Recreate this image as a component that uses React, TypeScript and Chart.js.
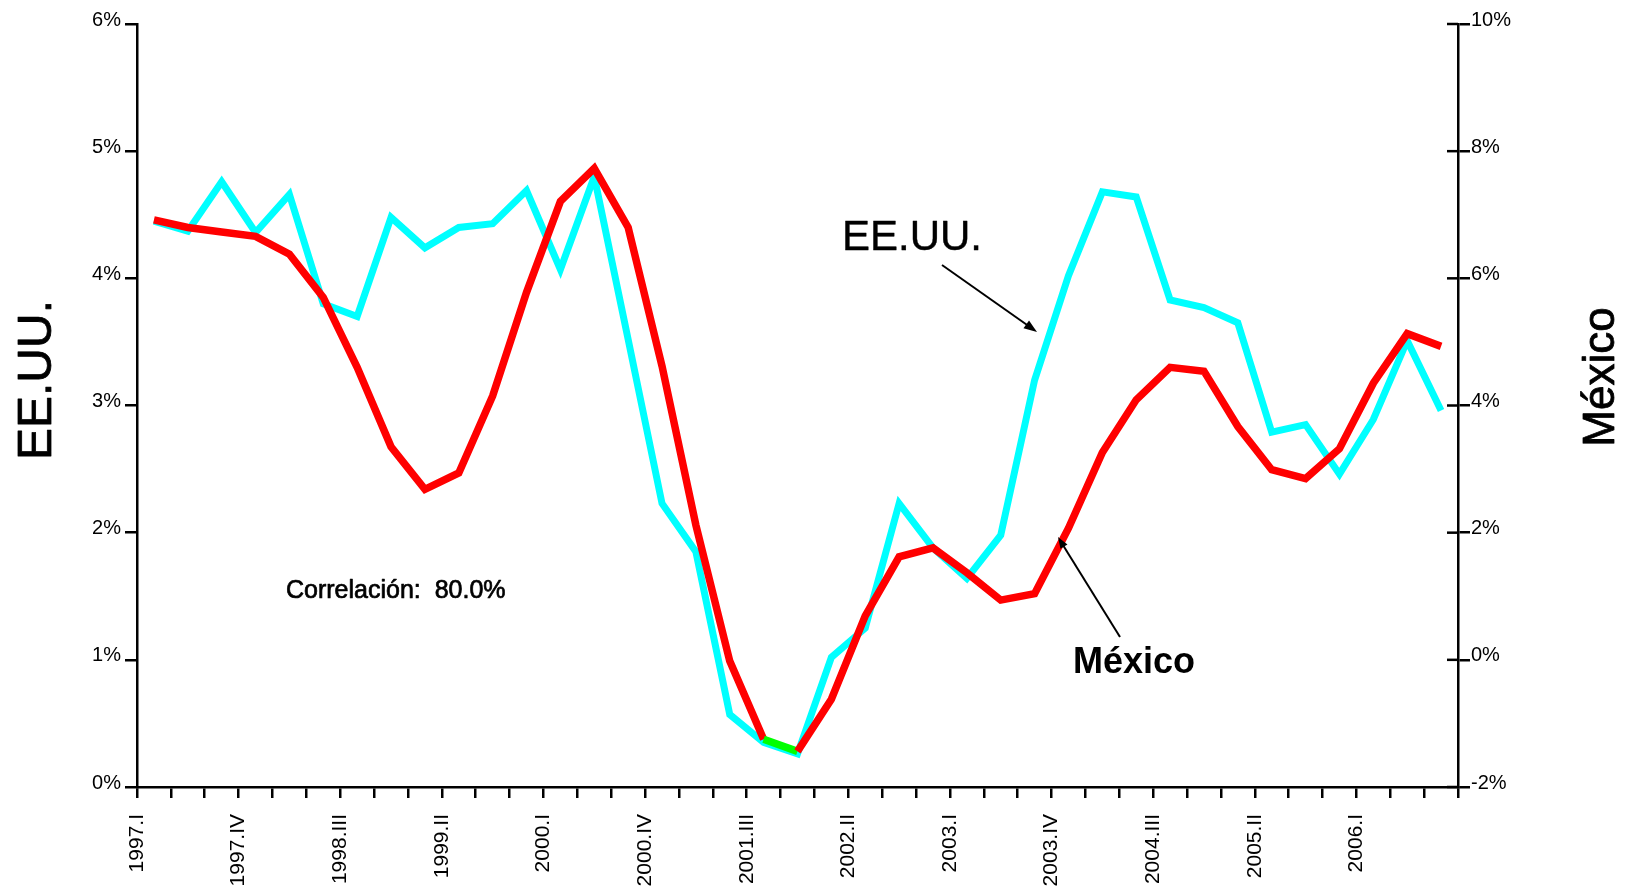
import React, { useEffect, useRef } from 'react';
import { Chart, registerables } from 'chart.js';

Chart.register(...registerables);

const FONT = '"Liberation Sans", Arial, Helvetica, sans-serif';

// Quarters 1997.I – 2006.III
const categories: string[] = [
  '1997.I', '1997.II', '1997.III', '1997.IV',
  '1998.I', '1998.II', '1998.III', '1998.IV',
  '1999.I', '1999.II', '1999.III', '1999.IV',
  '2000.I', '2000.II', '2000.III', '2000.IV',
  '2001.I', '2001.II', '2001.III', '2001.IV',
  '2002.I', '2002.II', '2002.III', '2002.IV',
  '2003.I', '2003.II', '2003.III', '2003.IV',
  '2004.I', '2004.II', '2004.III', '2004.IV',
  '2005.I', '2005.II', '2005.III', '2005.IV',
  '2006.I', '2006.II', '2006.III',
];

// EE.UU. (left axis, %)
const eeuu: number[] = [
  4.45, 4.37, 4.76, 4.36, 4.66, 3.80, 3.70, 4.48, 4.24, 4.40,
  4.43, 4.69, 4.07, 4.80, 3.52, 2.23, 1.85, 0.57, 0.35, 0.26,
  1.02, 1.25, 2.23, 1.88, 1.64, 1.98, 3.20, 4.02, 4.68, 4.64,
  3.83, 3.77, 3.65, 2.79, 2.85, 2.46, 2.89, 3.51, 2.96,
];

// México (right axis, %)
const mexico: number[] = [
  6.92, 6.80, 6.73, 6.66, 6.38, 5.70, 4.60, 3.35, 2.68, 2.94,
  4.15, 5.78, 7.21, 7.73, 6.80, 4.62, 2.12, -0.02, -1.25, -1.44,
  -0.62, 0.69, 1.62, 1.76, 1.37, 0.94, 1.04, 2.07, 3.26, 4.09,
  4.60, 4.54, 3.67, 2.99, 2.85, 3.32, 4.35, 5.13, 4.93,
];

// index of the México segment drawn in green
const highlightSegmentStart = 18;

const leftAxis = { min: 0, max: 6, step: 1 };
const rightAxis = { min: -2, max: 10, step: 2 };
const xLabelEvery = 3;

const correlationText = 'Correlación:  80.0%';

function drawArrow(ctx: CanvasRenderingContext2D, x1: number, y1: number, x2: number, y2: number, head: number, width: number) {
  const ang = Math.atan2(y2 - y1, x2 - x1);
  ctx.beginPath();
  ctx.moveTo(x1, y1);
  ctx.lineTo(x2 - Math.cos(ang) * head * 0.8, y2 - Math.sin(ang) * head * 0.8);
  ctx.lineWidth = width;
  ctx.strokeStyle = '#000';
  ctx.stroke();
  ctx.beginPath();
  ctx.moveTo(x2, y2);
  ctx.lineTo(x2 - head * Math.cos(ang - 0.35), y2 - head * Math.sin(ang - 0.35));
  ctx.lineTo(x2 - head * Math.cos(ang + 0.35), y2 - head * Math.sin(ang + 0.35));
  ctx.closePath();
  ctx.fillStyle = '#000';
  ctx.fill();
}

function heavyText(ctx: CanvasRenderingContext2D, text: string, x: number, y: number, stroke: number) {
  ctx.fillText(text, x, y);
  if (stroke > 0) {
    ctx.lineWidth = stroke;
    ctx.strokeStyle = '#000';
    ctx.strokeText(text, x, y);
  }
}

const annotationPlugin = {
  id: 'annotationPlugin',
  afterDraw(chart: any) {
    const ctx: CanvasRenderingContext2D = chart.ctx;
    const y1 = chart.scales.y1;
    ctx.save();
    // inner part of the right-axis tick marks (ticks cross the axis)
    ctx.strokeStyle = '#000';
    ctx.lineWidth = 2.5;
    for (const t of y1.ticks) {
      const py = y1.getPixelForValue(t.value);
      ctx.beginPath();
      ctx.moveTo(y1.left - 11, py);
      ctx.lineTo(y1.left, py);
      ctx.stroke();
    }

    ctx.fillStyle = '#000';
    ctx.lineJoin = 'round';
    // axis titles (rotated, reading upwards)
    ctx.textAlign = 'center';
    ctx.textBaseline = 'middle';
    ctx.save();
    ctx.translate(38, 380);
    ctx.rotate(-Math.PI / 2);
    ctx.font = `48px ${FONT}`;
    heavyText(ctx, 'EE.UU.', 0, 0, 0.8);
    ctx.restore();
    ctx.save();
    ctx.translate(1602, 377);
    ctx.rotate(-Math.PI / 2);
    ctx.font = `44px ${FONT}`;
    heavyText(ctx, 'México', 0, 0, 0.8);
    ctx.restore();

    // series labels
    ctx.textAlign = 'left';
    ctx.textBaseline = 'alphabetic';
    ctx.font = `42px ${FONT}`;
    heavyText(ctx, 'EE.UU.', 842, 250, 0.4);
    ctx.font = `bold 36px ${FONT}`;
    ctx.fillText('México', 1073, 673);
    ctx.font = `25px ${FONT}`;
    heavyText(ctx, correlationText, 286, 598, 0.7);

    drawArrow(ctx, 942, 265, 1037, 332, 14, 2);
    drawArrow(ctx, 1120, 637, 1058, 537, 12, 2);
    ctx.restore();
  },
};

export default function App() {
  const canvasRef = useRef<HTMLCanvasElement | null>(null);

  useEffect(() => {
    const canvas = canvasRef.current;
    if (!canvas) return;
    const chart = new Chart(canvas, {
      type: 'line',
      data: {
        labels: categories,
        datasets: [
          {
            label: 'México',
            data: mexico,
            yAxisID: 'y1',
            borderColor: '#FF0000',
            borderWidth: 7.5,
            pointRadius: 0,
            tension: 0,
            order: 0,
            segment: {
              borderColor: (c: any) => (c.p0DataIndex === highlightSegmentStart ? '#00FF00' : undefined),
            },
          },
          {
            label: 'EE.UU.',
            data: eeuu,
            yAxisID: 'y',
            borderColor: '#00FFFF',
            borderWidth: 7,
            pointRadius: 0,
            tension: 0,
            order: 1,
          },
        ],
      },
      options: {
        animation: false,
        responsive: true,
        maintainAspectRatio: false,
        layout: { padding: { top: 24, left: 0, right: 0, bottom: 0 } },
        plugins: {
          legend: { display: false },
          tooltip: { enabled: false },
          title: { display: false },
        },
        scales: {
          x: {
            type: 'category',
            offset: true,
            grid: {
              offset: true,
              drawOnChartArea: false,
              drawTicks: true,
              tickLength: 11,
              color: '#000',
              lineWidth: 2.5,
            },
            border: { display: true, color: '#000', width: 2.5 },
            ticks: {
              autoSkip: false,
              maxRotation: 90,
              minRotation: 90,
              padding: 16,
              labelOffset: -16.9,
              color: '#000',
              font: { size: 21, family: FONT },
              callback: (_v: any, index: number) => (index % xLabelEvery === 0 ? categories[index] : ''),
            },
            afterFit: (s: any) => {
              s.height = 106;
            },
          },
          y: {
            position: 'left',
            min: leftAxis.min,
            max: leftAxis.max,
            grid: { drawOnChartArea: false, tickLength: 12, color: '#000', lineWidth: 2.5 },
            border: { display: true, color: '#000', width: 2.5 },
            ticks: {
              stepSize: leftAxis.step,
              padding: 4,
              labelOffset: -4,
              color: '#000',
              font: { size: 20, family: FONT },
              callback: (v: any) => `${v}%`,
            },
            afterFit: (s: any) => {
              s.width = 137;
            },
          },
          y1: {
            position: 'right',
            min: rightAxis.min,
            max: rightAxis.max,
            grid: { drawOnChartArea: false, tickLength: 12, color: '#000', lineWidth: 2.5 },
            border: { display: true, color: '#000', width: 2.5 },
            ticks: {
              stepSize: rightAxis.step,
              padding: 1,
              labelOffset: -4,
              color: '#000',
              font: { size: 20, family: FONT },
              callback: (v: any) => `${v}%`,
            },
            afterFit: (s: any) => {
              s.width = 173;
            },
          },
        },
      },
      plugins: [annotationPlugin],
    });
    return () => chart.destroy();
  }, []);

  return (
    <div style={{ position: 'absolute', left: 0, top: 0, width: 1631, height: 893, background: '#fff' }}>
      <canvas ref={canvasRef} />
    </div>
  );
}
